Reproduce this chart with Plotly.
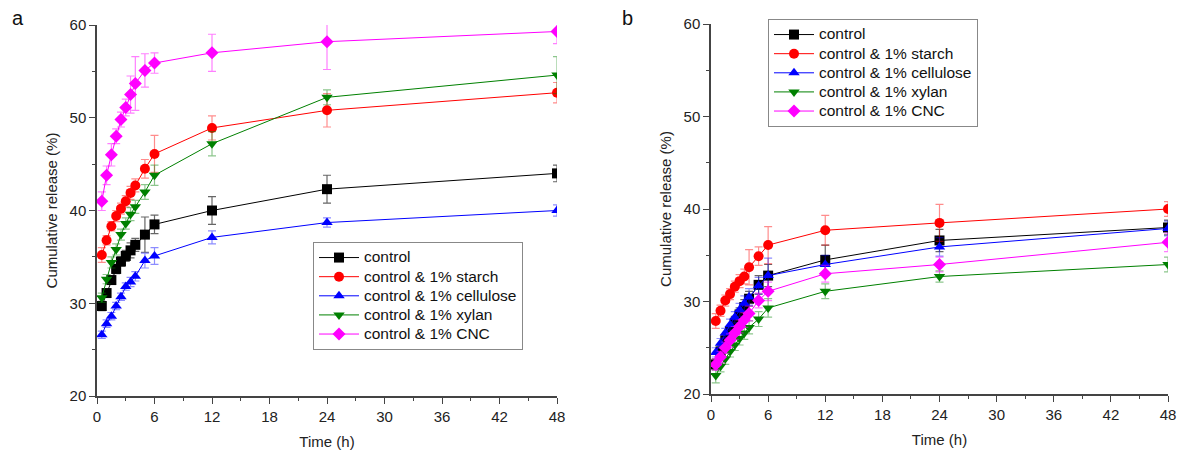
import plotly.graph_objects as go

time_h = [0.5, 1, 1.5, 2, 2.5, 3, 3.5, 4, 5, 6, 12, 24, 48]
names = ["control", "control & 1% starch", "control & 1% cellulose",
         "control & 1% xylan", "control & 1% CNC"]
colors = ["#000000", "#FF0000", "#0000FF", "#008000", "#FF00FF"]
err_colors = ["rgba(0,0,0,0.6)", "rgba(255,0,0,0.45)", "rgba(0,0,255,0.45)",
              "rgba(0,128,0,0.45)", "rgba(255,0,255,0.5)"]
symbols = ["square", "circle", "triangle-up", "triangle-down", "diamond"]

# Panel a values
a_control = [29.7, 31.1, 32.5, 33.7, 34.5, 35.1, 35.7, 36.3, 37.4, 38.5, 40.0, 42.3, 44.0]
a_starch = [35.2, 36.8, 38.3, 39.4, 40.2, 41.0, 41.9, 42.7, 44.5, 46.1, 48.9, 50.8, 52.7]
a_cellulose = [26.6, 27.8, 28.6, 29.7, 30.7, 31.8, 32.3, 32.9, 34.6, 35.1, 37.1, 38.7, 40.0]
a_xylan = [30.6, 32.6, 34.4, 35.8, 37.4, 38.6, 39.6, 40.4, 42.0, 43.8, 47.2, 52.2, 54.6]
a_cnc = [41.0, 43.8, 46.0, 48.0, 49.8, 51.1, 52.5, 53.7, 55.1, 55.9, 57.0, 58.2, 59.3]

a_control_err = [0.5, 0.4, 0.4, 0.5, 0.5, 0.6, 0.8, 0.7, 1.9, 1.0, 1.5, 1.5, 0.9]
a_starch_err = [0.8, 0.5, 0.5, 0.6, 0.6, 0.6, 0.7, 0.7, 1.0, 2.0, 1.3, 1.8, 1.1]
a_cellulose_err = [0.4, 0.4, 0.4, 0.4, 0.4, 0.4, 0.5, 0.5, 0.8, 0.9, 0.7, 0.5, 0.6]
a_xylan_err = [0.5, 0.5, 0.6, 0.6, 0.6, 0.6, 0.7, 0.7, 0.8, 1.1, 1.3, 0.8, 2.0]
a_cnc_err = [1.0, 1.0, 1.2, 0.8, 0.8, 0.9, 2.0, 2.9, 1.8, 1.1, 2.0, 3.0, 1.3]

# Panel b values
b_control = [23.2, 24.6, 25.8, 26.8, 27.7, 28.6, 29.4, 30.3, 31.8, 32.8, 34.5, 36.6, 38.0]
b_starch = [27.9, 29.0, 30.1, 30.8, 31.6, 32.2, 32.7, 33.7, 34.9, 36.1, 37.7, 38.5, 40.0]
b_cellulose = [24.5, 25.5, 26.6, 27.5, 28.3, 29.1, 29.8, 30.5, 31.7, 32.8, 34.0, 35.9, 37.9]
b_xylan = [22.0, 23.0, 23.8, 24.6, 25.3, 26.0, 26.6, 27.2, 28.1, 29.3, 31.1, 32.7, 34.0]
b_cnc = [23.2, 24.0, 25.0, 25.8, 26.6, 27.3, 28.0, 28.7, 30.1, 31.1, 33.0, 34.0, 36.4]

b_control_err = [0.6, 0.6, 0.6, 0.6, 0.7, 0.7, 0.8, 0.8, 1.0, 1.2, 1.6, 1.2, 0.8]
b_starch_err = [0.8, 0.6, 0.6, 0.6, 0.6, 0.7, 0.8, 1.9, 1.0, 2.0, 1.6, 2.0, 0.8]
b_cellulose_err = [0.5, 0.5, 0.5, 0.6, 0.6, 0.7, 0.8, 0.9, 0.9, 1.9, 1.0, 1.0, 0.8]
b_xylan_err = [0.8, 0.6, 0.6, 0.6, 0.6, 0.7, 0.7, 0.7, 0.8, 1.0, 0.8, 0.6, 0.8]
b_cnc_err = [0.6, 0.6, 0.6, 0.7, 0.7, 0.7, 0.8, 0.8, 0.8, 1.0, 0.9, 0.8, 1.0]

panel_a = [a_control, a_starch, a_cellulose, a_xylan, a_cnc]
panel_a_err = [a_control_err, a_starch_err, a_cellulose_err, a_xylan_err, a_cnc_err]
panel_b = [b_control, b_starch, b_cellulose, b_xylan, b_cnc]
panel_b_err = [b_control_err, b_starch_err, b_cellulose_err, b_xylan_err, b_cnc_err]

x_ticks = [0, 6, 12, 18, 24, 30, 36, 42, 48]
y_ticks = [20, 30, 40, 50, 60]

FONT = "Arial, Liberation Sans, sans-serif"
W, H = 1182, 451

fig = go.Figure()

def add_panel(vals, errs, xa, ya, legend, msize):
    for i in range(5):
        fig.add_trace(go.Scatter(
            x=time_h, y=vals[i], mode="lines+markers",
            name='<span style="font-size:15.5px">' + names[i] + '</span>',
            xaxis=xa, yaxis=ya, legend=legend,
            line=dict(color=colors[i], width=1),
            marker=dict(symbol=symbols[i], color=colors[i], size=msize,
                        line=dict(width=0)),
            error_y=dict(type="data", array=errs[i], visible=True,
                         color=err_colors[i], thickness=1.2, width=4),
        ))

add_panel(panel_a, panel_a_err, "x", "y", "legend", 10)
add_panel(panel_b, panel_b_err, "x2", "y2", "legend2", 10)

axis_common = dict(
    showline=True, linecolor="#444444", linewidth=1.5, mirror=False,
    ticks="outside", ticklen=6, tickwidth=1, tickcolor="#444444",
    showgrid=False, zeroline=False, automargin=False,
    tickfont=dict(family=FONT, size=15, color="#222222"),
    title_font=dict(family=FONT, size=15, color="#222222"),
)
minor_x = dict(ticks="outside", ticklen=3, dtick=3, tickcolor="#444444", tickwidth=1)
minor_y = dict(ticks="outside", ticklen=3, dtick=5, tickcolor="#444444", tickwidth=1)

xa_dom = [97 / W, 557 / W]
xb_dom = [711 / W, 1168 / W]
ya_dom = [1 - 396 / H, 1 - 25 / H]
yb_dom = [1 - 394 / H, 1 - 24 / H]

legend_common = dict(xanchor="left", yanchor="top",
                     bgcolor="white", bordercolor="#888888", borderwidth=1,
                     font=dict(family=FONT, size=12.4, color="#111111"),
                     tracegroupgap=0, itemwidth=40)

fig.update_layout(
    width=W, height=H,
    margin=dict(l=0, r=0, t=0, b=0, autoexpand=False),
    paper_bgcolor="white", plot_bgcolor="white",
    font=dict(family=FONT, color="#222222"),
    xaxis=dict(domain=xa_dom, anchor="y", range=[0, 48], tickvals=x_ticks,
               minor=minor_x, title=dict(text="Time (h)", standoff=13), **axis_common),
    yaxis=dict(domain=ya_dom, anchor="x", range=[20, 60], tickvals=y_ticks,
               minor=minor_y, title=dict(text="Cumulative release (%)", standoff=8), **axis_common),
    xaxis2=dict(domain=xb_dom, anchor="y2", range=[0, 48], tickvals=x_ticks,
                minor=minor_x, title=dict(text="Time (h)", standoff=13), **axis_common),
    yaxis2=dict(domain=yb_dom, anchor="x2", range=[20, 60], tickvals=y_ticks,
                minor=minor_y, title=dict(text="Cumulative release (%)", standoff=8), **axis_common),
    legend=dict(x=313 / W, y=1 - 242 / H, **legend_common),
    legend2=dict(x=768 / W, y=1 - 19 / H, **legend_common),
    annotations=[
        dict(text="a", x=10 / W, y=1 - 18 / H, xref="paper", yref="paper",
             xanchor="left", yanchor="middle", showarrow=False,
             font=dict(family=FONT, size=20, color="#111111")),
        dict(text="b", x=620 / W, y=1 - 18 / H, xref="paper", yref="paper",
             xanchor="left", yanchor="middle", showarrow=False,
             font=dict(family=FONT, size=20, color="#111111")),
    ],
)

fig.write_html("out.html")
